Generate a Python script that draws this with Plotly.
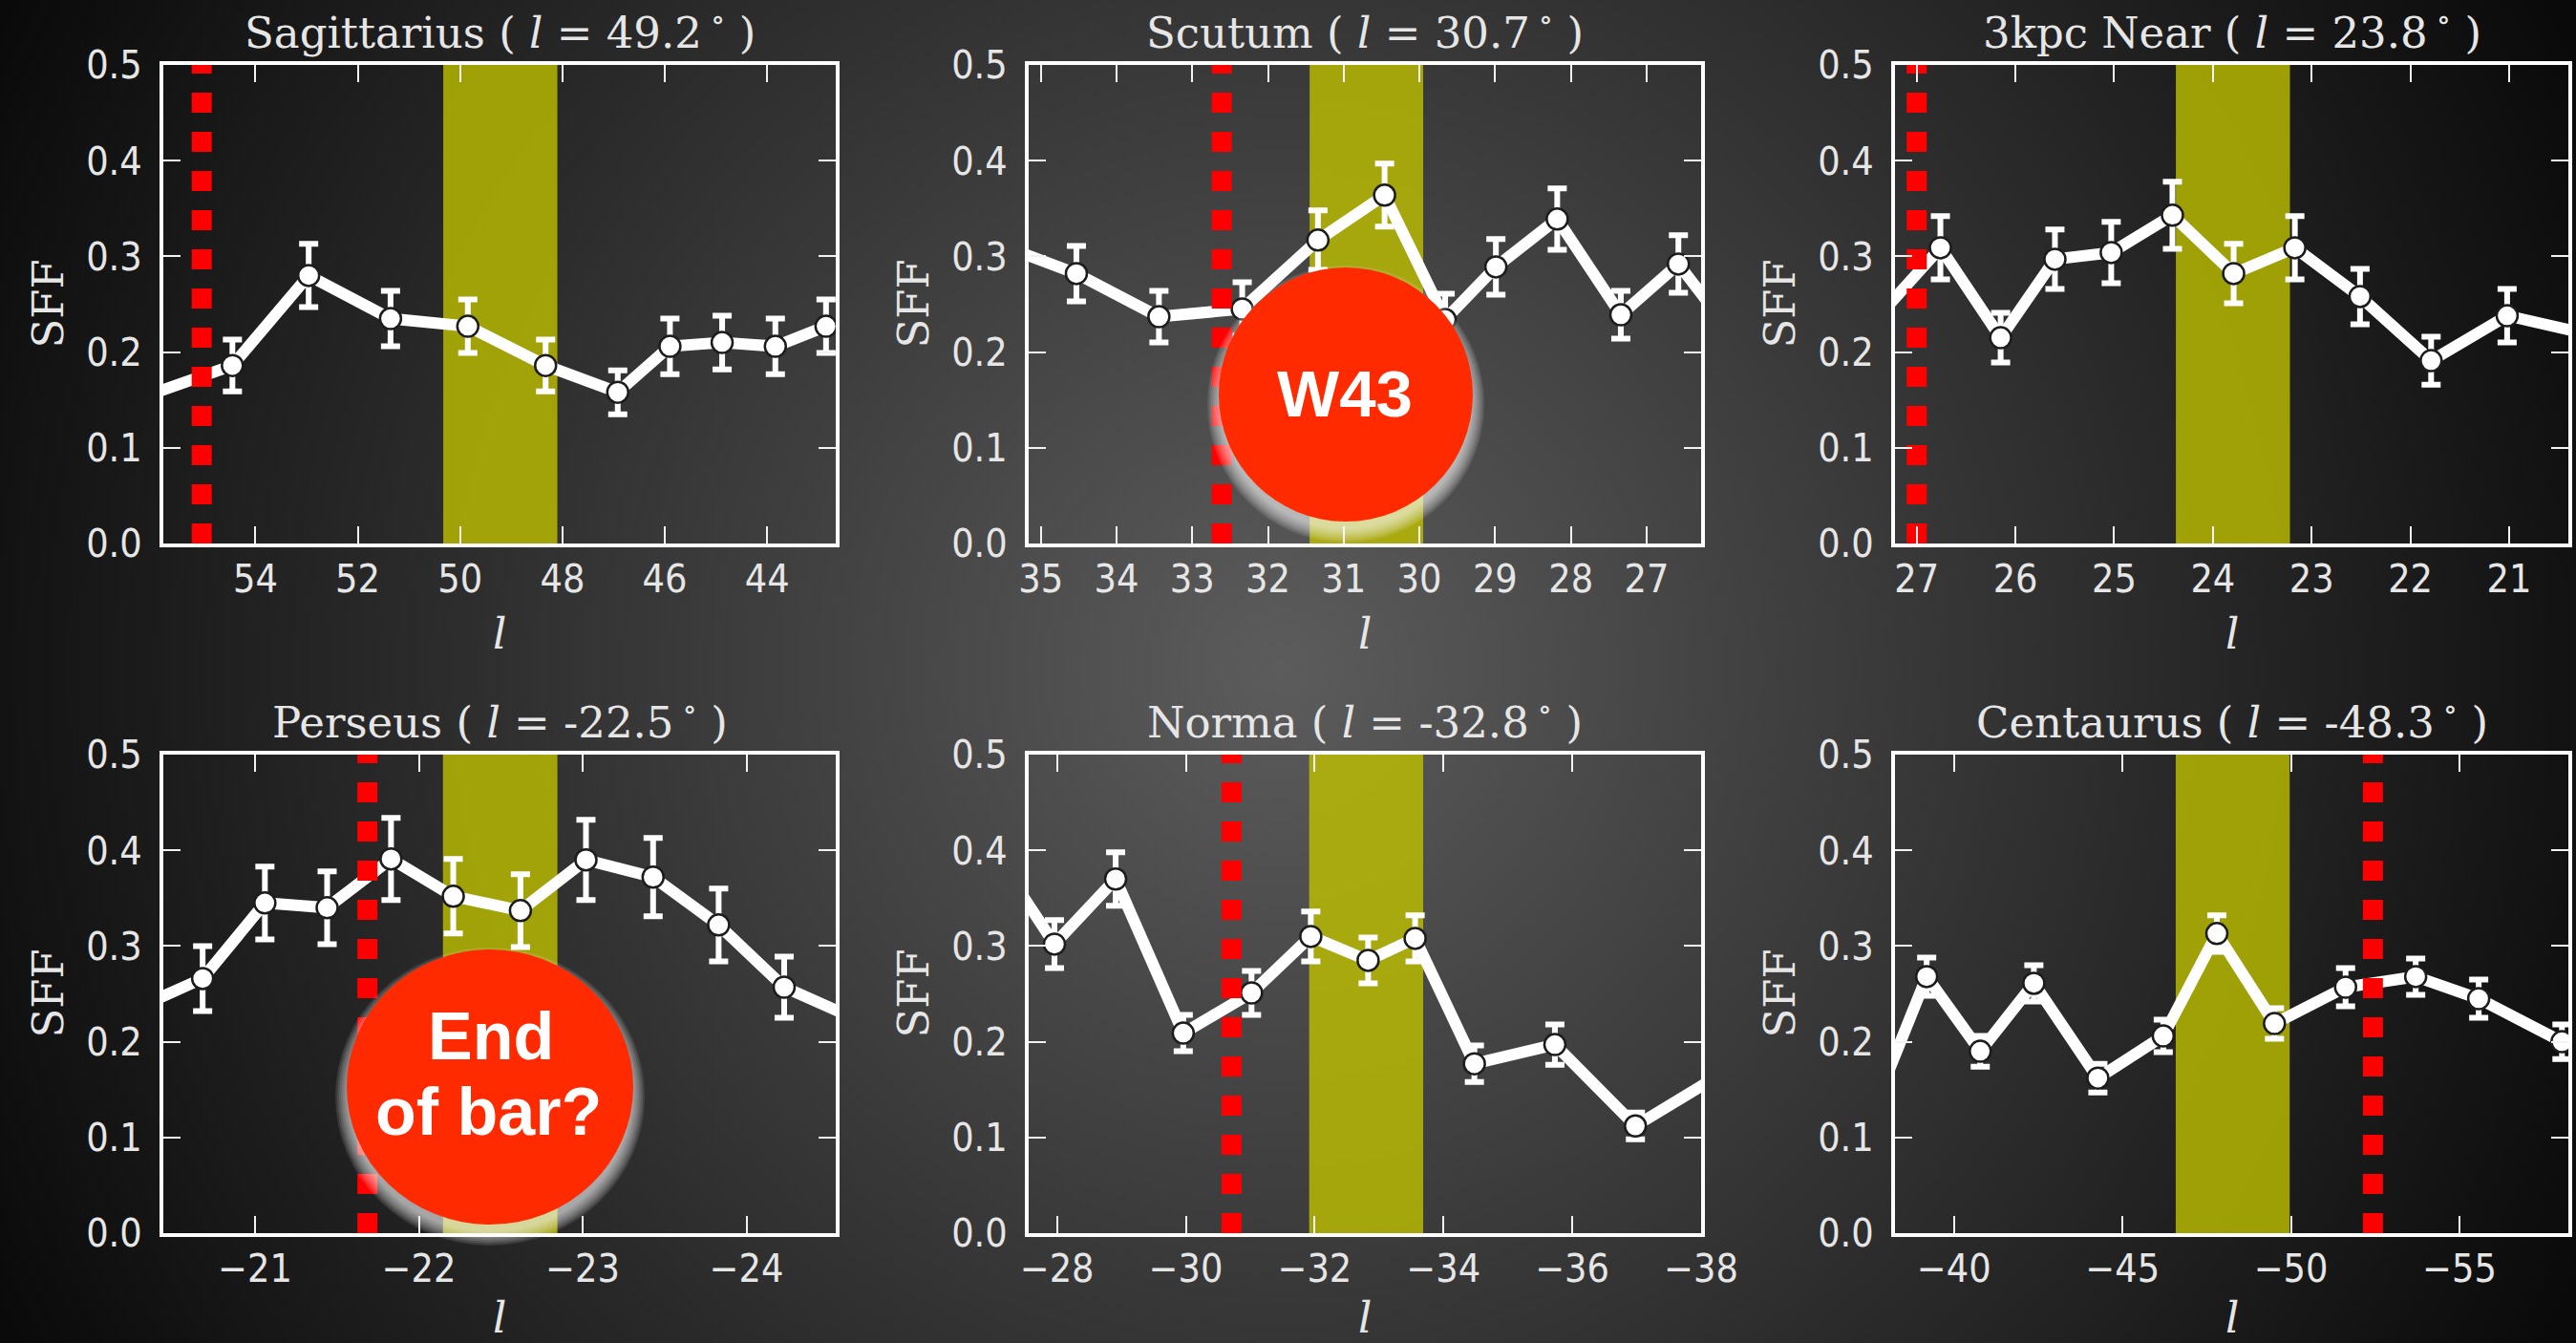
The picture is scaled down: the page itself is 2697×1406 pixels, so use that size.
import base64
import plotly.graph_objects as go

W, H = 2697, 1406

# ---------------------------------------------------------------- data
arm_names = ["Sagittarius", "Scutum", "3kpc Near", "Perseus", "Norma", "Centaurus"]
arm_l_text = ["49.2", "30.7", "23.8", "-22.5", "-32.8", "-48.3"]

# Galactic longitude of each bin and its star-formation fraction (SFF)
l_sgr = [56.10, 54.45, 52.96, 51.36, 49.85, 48.33, 46.92, 45.90, 44.88, 43.84, 42.85]
sff_sgr = [0.155, 0.186, 0.280, 0.235, 0.227, 0.186, 0.158, 0.206, 0.210, 0.206, 0.227]
err_sgr = [0.027, 0.027, 0.033, 0.029, 0.028, 0.027, 0.023, 0.029, 0.028, 0.029, 0.028]

l_sct = [35.60, 34.53, 33.44, 32.34, 31.34, 30.46, 29.66, 28.99, 28.18, 27.34, 26.58, 25.80]
sff_sct = [0.314, 0.282, 0.237, 0.245, 0.317, 0.364, 0.234, 0.289, 0.339, 0.239, 0.292, 0.212]
err_sct = [0.029, 0.029, 0.027, 0.028, 0.031, 0.033, 0.027, 0.029, 0.032, 0.025, 0.030, 0.028]

l_3kn = [27.40, 26.76, 26.15, 25.60, 25.03, 24.41, 23.79, 23.17, 22.51, 21.79, 21.02, 20.25]
sff_3kn = [0.236, 0.309, 0.215, 0.297, 0.304, 0.343, 0.282, 0.309, 0.258, 0.191, 0.238, 0.220]
err_3kn = [0.030, 0.033, 0.026, 0.031, 0.032, 0.035, 0.031, 0.033, 0.029, 0.025, 0.028, 0.027]

l_per = [-20.30, -20.68, -21.06, -21.44, -21.83, -22.21, -22.62, -23.02, -23.43, -23.83, -24.23, -24.65]
sff_per = [0.237, 0.266, 0.345, 0.340, 0.391, 0.352, 0.337, 0.390, 0.372, 0.322, 0.257, 0.225]
err_per = [0.033, 0.034, 0.038, 0.038, 0.043, 0.039, 0.038, 0.042, 0.041, 0.038, 0.032, 0.031]

l_nor = [-27.05, -27.96, -28.91, -29.96, -31.02, -31.94, -32.83, -33.56, -34.48, -35.73, -36.98, -38.23]
sff_nor = [0.395, 0.302, 0.370, 0.209, 0.251, 0.310, 0.285, 0.308, 0.177, 0.197, 0.112, 0.163]
err_nor = [0.025, 0.025, 0.028, 0.019, 0.023, 0.026, 0.024, 0.024, 0.019, 0.021, 0.014, 0.017]

l_cen = [-37.50, -39.19, -40.78, -42.37, -44.27, -46.21, -47.80, -49.51, -51.62, -53.70, -55.57, -58.04]
sff_cen = [0.120, 0.268, 0.190, 0.261, 0.162, 0.206, 0.313, 0.219, 0.257, 0.268, 0.245, 0.200]
err_cen = [0.016, 0.020, 0.016, 0.019, 0.015, 0.017, 0.019, 0.016, 0.020, 0.019, 0.020, 0.018]

# longitude span of each arm (shaded) and the tangent longitude (red dots)
arm_spans = [(48.10, 50.33), (29.95, 31.45), (23.22, 24.375),
             (-22.846, -22.147), (-33.685, -31.915), (-49.96, -46.58)]
tangent_l = [55.05, 32.61, 27.0, -21.686, -30.71, -52.43]

# axis limits (longitude decreases to the right)
l_ranges = [(55.80, 42.66), (35.16, 26.28), (27.22, 20.40),
            (-20.44, -24.545), (-27.56, -38.0), (-38.25, -58.23)]

x_tickvals = [[54, 52, 50, 48, 46, 44],
              [35, 34, 33, 32, 31, 30, 29, 28, 27],
              [27, 26, 25, 24, 23, 22, 21],
              [-21, -22, -23, -24],
              [-28, -30, -32, -34, -36, -38],
              [-40, -45, -50, -55]]
x_ticktext = [["54", "52", "50", "48", "46", "44"],
              ["35", "34", "33", "32", "31", "30", "29", "28", "27"],
              ["27", "26", "25", "24", "23", "22", "21"],
              ["\u221221", "\u221222", "\u221223", "\u221224"],
              ["\u221228", "\u221230", "\u221232", "\u221234", "\u221236", "\u221238"],
              ["\u221240", "\u221245", "\u221250", "\u221255"]]
y_tickvals = [0.0, 0.1, 0.2, 0.3, 0.4, 0.5]
y_ticktext = ["0.0", "0.1", "0.2", "0.3", "0.4", "0.5"]

series_l = [l_sgr, l_sct, l_3kn, l_per, l_nor, l_cen]
series_sff = [sff_sgr, sff_sct, sff_3kn, sff_per, sff_nor, sff_cen]
series_err = [err_sgr, err_sct, err_3kn, err_per, err_nor, err_cen]

callout_w43 = "W43"
callout_bar = ["End", "of bar?"]

# ---------------------------------------------------------------- layout geometry (pixels)
col_px = [(171, 875), (1077, 1781), (1984, 2689)]
row_px = [(68, 569), (790, 1291)]

SERIF = "DejaVu Serif, Liberation Serif, serif"
TICKFONT = "DejaVu Sans Condensed, DejaVu Sans, sans-serif"
TXT = "#e6e6e6"


def px_x(x):
    return x / W


def px_y(y):
    return 1 - y / H


fig = go.Figure()
shapes = []
annotations = []

for i in range(6):
    r, c = divmod(i, 3)
    x0, x1 = col_px[c]
    y0, y1 = row_px[r]
    ax = "" if i == 0 else str(i + 1)
    xa, ya = "x" + ax, "y" + ax

    common = dict(showgrid=False, zeroline=False, showline=True, linecolor="white",
                  linewidth=4, mirror="allticks", ticks="inside", ticklen=18,
                  tickwidth=2, tickcolor="#f2f2f2", automargin=False,
                  tickfont=dict(family=TICKFONT, size=41, color=TXT))
    fig.update_layout(**{
        "xaxis" + ax: dict(common, domain=[px_x(x0), px_x(x1)], anchor=ya,
                           range=list(l_ranges[i]), tickmode="array",
                           tickvals=x_tickvals[i], ticktext=x_ticktext[i],
                           ticklabelstandoff=-2),
        "yaxis" + ax: dict(common, domain=[px_y(y1), px_y(y0)], anchor=xa,
                           range=[0, 0.5], tickmode="array",
                           tickvals=y_tickvals, ticktext=y_ticktext,
                           ticklabelstandoff=10),
    })

    # arm extent
    shapes.append(dict(type="rect", xref=xa, yref=ya, x0=arm_spans[i][0], x1=arm_spans[i][1],
                       y0=0, y1=0.5, layer="below", line=dict(width=0),
                       fillcolor="rgba(191,191,0,0.8)"))

    # SFF profile with errors
    fig.add_trace(go.Scatter(
        x=series_l[i], y=series_sff[i], xaxis=xa, yaxis=ya, mode="lines+markers",
        line=dict(color="white", width=12),
        marker=dict(size=22, color="white", line=dict(color="#1c1c1c", width=2.5)),
        error_y=dict(type="data", array=series_err[i], color="white", thickness=6, width=10),
        hoverinfo="skip"))

    # tangent point
    fig.add_trace(go.Scatter(
        x=[tangent_l[i], tangent_l[i]], y=[0, 0.5], xaxis=xa, yaxis=ya, mode="lines",
        line=dict(color="#ff0000", width=21, dash="21px,20px"), hoverinfo="skip"))

    cx = (x0 + x1) / 2
    annotations.append(dict(
        text=f"{arm_names[i]} ( <i>l</i> = {arm_l_text[i]}\u2009<sup>\u2218</sup> )",
        xref="paper", yref="paper", x=px_x(cx), y=px_y(y0 - 36),
        xanchor="center", yanchor="middle", showarrow=False,
        font=dict(family=SERIF, size=45, color=TXT)))
    annotations.append(dict(
        text="SFF", textangle=-90, xref="paper", yref="paper",
        x=px_x(x0 - 121), y=px_y((y0 + y1) / 2), xanchor="center", yanchor="middle",
        showarrow=False, font=dict(family=SERIF, size=45, color=TXT)))
    annotations.append(dict(
        text="<i>l</i>", xref="paper", yref="paper", x=px_x(cx),
        y=px_y(min(y1 + 94, H - 27)),
        xanchor="center", yanchor="middle", showarrow=False,
        font=dict(family=SERIF, size=45, color=TXT)))


# call-out discs with a soft light halo underneath
def disc(cx, cy, rx, ry):
    for k in range(8):
        g = 2 * k - 2
        shapes.append(dict(type="circle", xref="paper", yref="paper", layer="above",
                           x0=px_x(cx - rx - g), x1=px_x(cx + rx + g),
                           y0=px_y(cy + 10 + ry + g), y1=px_y(cy + 10 - ry - g),
                           fillcolor="rgba(255,255,255,0.11)", line=dict(width=0)))
    shapes.append(dict(type="circle", xref="paper", yref="paper", layer="above",
                       x0=px_x(cx - rx), x1=px_x(cx + rx),
                       y0=px_y(cy + ry), y1=px_y(cy - ry),
                       fillcolor="#ff2a00", line=dict(width=0)))


disc(1409, 413, 133, 133)
disc(513, 1138, 150, 144)

CALLFONT = "Liberation Sans, Arial, sans-serif"
annotations.append(dict(text=f"<b>{callout_w43}</b>", xref="paper", yref="paper",
                        x=px_x(1408), y=px_y(413), xanchor="center", yanchor="middle",
                        showarrow=False, font=dict(family=CALLFONT, size=69, color="white")))
annotations.append(dict(text=f"<b>{callout_bar[0]}</b>", xref="paper", yref="paper",
                        x=px_x(514), y=px_y(1085), xanchor="center", yanchor="middle",
                        showarrow=False, font=dict(family=CALLFONT, size=70, color="white")))
annotations.append(dict(text=f"<b>{callout_bar[1]}</b>", xref="paper", yref="paper",
                        x=px_x(511), y=px_y(1164), xanchor="center", yanchor="middle",
                        showarrow=False, font=dict(family=CALLFONT, size=70, color="white")))

# radial vignette behind the panels
bg_svg = (
    f'<svg xmlns="http://www.w3.org/2000/svg" width="{W}" height="{H}">'
    '<defs><radialGradient id="g" gradientUnits="userSpaceOnUse" cx="1340" cy="700" r="1500">'
    '<stop offset="0" stop-color="#5c5c5c"/><stop offset="1" stop-color="#0a0a0a"/>'
    '</radialGradient></defs>'
    f'<rect width="{W}" height="{H}" fill="url(#g)"/></svg>'
)
bg_uri = "data:image/svg+xml;base64," + base64.b64encode(bg_svg.encode()).decode()

fig.update_layout(
    template="none",
    width=W, height=H, autosize=False,
    margin=dict(l=0, r=0, t=0, b=0, pad=0),
    paper_bgcolor="#111111", plot_bgcolor="rgba(0,0,0,0)",
    showlegend=False, hovermode=False,
    shapes=shapes, annotations=annotations,
    images=[dict(source=bg_uri, xref="paper", yref="paper", x=0, y=1, sizex=1, sizey=1,
                 xanchor="left", yanchor="top", sizing="stretch", layer="below")],
)

fig.write_html("out.html")
